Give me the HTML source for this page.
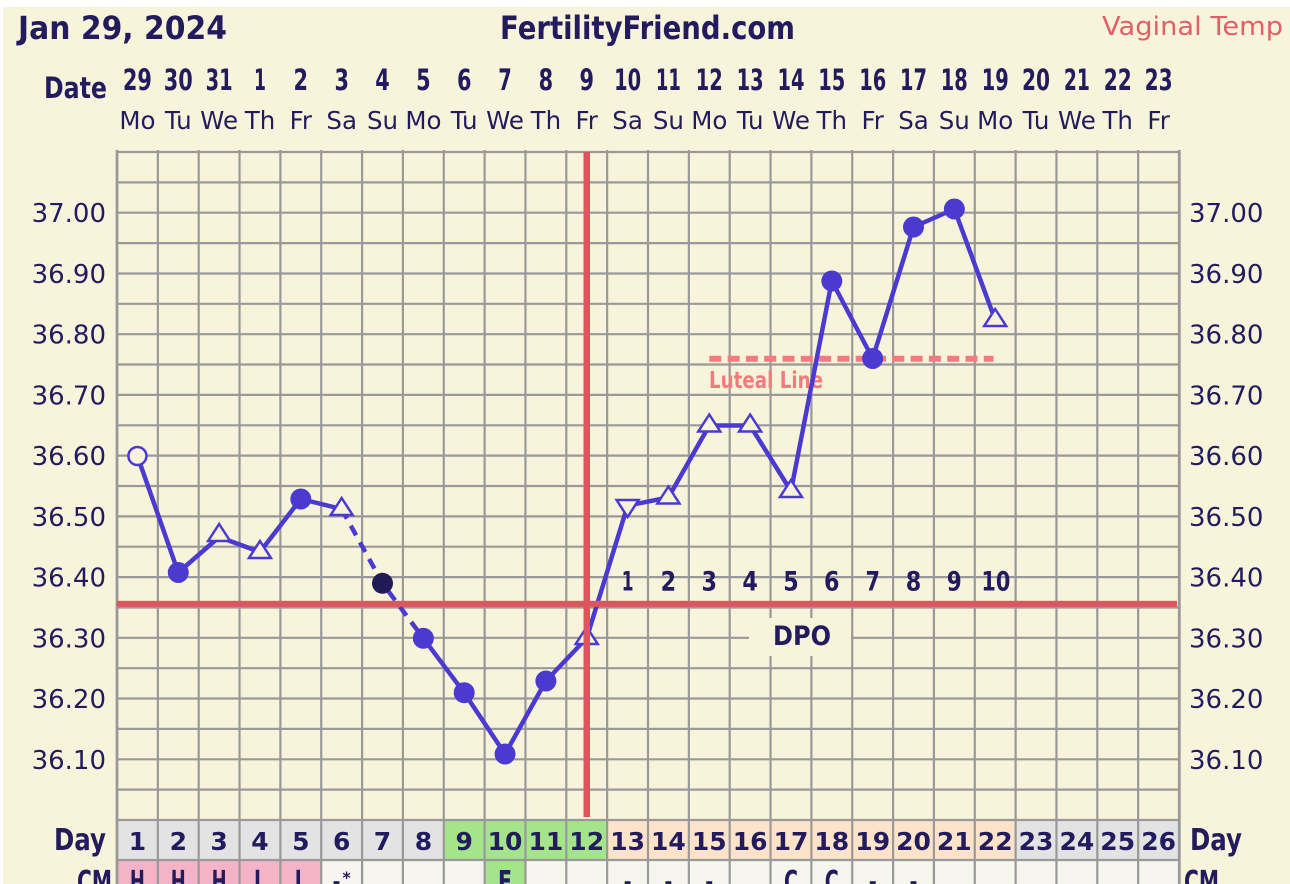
<!DOCTYPE html>
<html><head><meta charset="utf-8">
<style>
html,body{margin:0;padding:0;background:#fff;}
body{width:1290px;height:884px;overflow:hidden;}
svg{display:block;}
text{font-family:"DejaVu Sans","Liberation Sans",sans-serif;fill:#221b5e;}
.b{font-weight:bold;}
</style></head>
<body>
<svg width="1290" height="884" viewBox="0 0 1290 884" xmlns="http://www.w3.org/2000/svg">
<rect x="3" y="7" width="1287" height="877" fill="#f8f4dc"/>

<!-- Header -->
<text class="b" x="18" y="39" font-size="32" textLength="209" lengthAdjust="spacingAndGlyphs">Jan 29, 2024</text>
<text class="b" x="500" y="39" font-size="32" textLength="295" lengthAdjust="spacingAndGlyphs">FertilityFriend.com</text>
<text x="1102" y="35" font-size="26" textLength="181" lengthAdjust="spacingAndGlyphs" style="fill:#e0606a">Vaginal Temp</text>

<text class="b" x="44" y="98" font-size="29" textLength="63" lengthAdjust="spacingAndGlyphs">Date</text>

<!-- Dates -->
<g class="b" font-size="29" text-anchor="middle">
<text x="137.4" y="90" textLength="29" lengthAdjust="spacingAndGlyphs">29</text>
<text x="178.3" y="90" textLength="29" lengthAdjust="spacingAndGlyphs">30</text>
<text x="219.1" y="90" textLength="27" lengthAdjust="spacingAndGlyphs">31</text>
<text x="260.0" y="90" textLength="12" lengthAdjust="spacingAndGlyphs">1</text>
<text x="300.8" y="90" textLength="14.5" lengthAdjust="spacingAndGlyphs">2</text>
<text x="341.7" y="90" textLength="14.5" lengthAdjust="spacingAndGlyphs">3</text>
<text x="382.5" y="90" textLength="14.5" lengthAdjust="spacingAndGlyphs">4</text>
<text x="423.4" y="90" textLength="14.5" lengthAdjust="spacingAndGlyphs">5</text>
<text x="464.2" y="90" textLength="14.5" lengthAdjust="spacingAndGlyphs">6</text>
<text x="505.0" y="90" textLength="13.5" lengthAdjust="spacingAndGlyphs">7</text>
<text x="545.9" y="90" textLength="14.5" lengthAdjust="spacingAndGlyphs">8</text>
<text x="586.7" y="90" textLength="14.5" lengthAdjust="spacingAndGlyphs">9</text>
<text x="627.6" y="90" textLength="27" lengthAdjust="spacingAndGlyphs">10</text>
<text x="668.4" y="90" textLength="25" lengthAdjust="spacingAndGlyphs">11</text>
<text x="709.3" y="90" textLength="27" lengthAdjust="spacingAndGlyphs">12</text>
<text x="750.1" y="90" textLength="27" lengthAdjust="spacingAndGlyphs">13</text>
<text x="791.0" y="90" textLength="27" lengthAdjust="spacingAndGlyphs">14</text>
<text x="831.8" y="90" textLength="27" lengthAdjust="spacingAndGlyphs">15</text>
<text x="872.7" y="90" textLength="27" lengthAdjust="spacingAndGlyphs">16</text>
<text x="913.5" y="90" textLength="27" lengthAdjust="spacingAndGlyphs">17</text>
<text x="954.3" y="90" textLength="27" lengthAdjust="spacingAndGlyphs">18</text>
<text x="995.2" y="90" textLength="27" lengthAdjust="spacingAndGlyphs">19</text>
<text x="1036.0" y="90" textLength="28" lengthAdjust="spacingAndGlyphs">20</text>
<text x="1076.9" y="90" textLength="26" lengthAdjust="spacingAndGlyphs">21</text>
<text x="1117.7" y="90" textLength="28" lengthAdjust="spacingAndGlyphs">22</text>
<text x="1158.6" y="90" textLength="28" lengthAdjust="spacingAndGlyphs">23</text>
</g>

<!-- Weekdays -->
<g font-size="24.5" text-anchor="middle">
<text x="137.4" y="129">Mo</text>
<text x="178.3" y="129">Tu</text>
<text x="219.1" y="129">We</text>
<text x="260.0" y="129">Th</text>
<text x="300.8" y="129">Fr</text>
<text x="341.7" y="129">Sa</text>
<text x="382.5" y="129">Su</text>
<text x="423.4" y="129">Mo</text>
<text x="464.2" y="129">Tu</text>
<text x="505.0" y="129">We</text>
<text x="545.9" y="129">Th</text>
<text x="586.7" y="129">Fr</text>
<text x="627.6" y="129">Sa</text>
<text x="668.4" y="129">Su</text>
<text x="709.3" y="129">Mo</text>
<text x="750.1" y="129">Tu</text>
<text x="791.0" y="129">We</text>
<text x="831.8" y="129">Th</text>
<text x="872.7" y="129">Fr</text>
<text x="913.5" y="129">Sa</text>
<text x="954.3" y="129">Su</text>
<text x="995.2" y="129">Mo</text>
<text x="1036.0" y="129">Tu</text>
<text x="1076.9" y="129">We</text>
<text x="1117.7" y="129">Th</text>
<text x="1158.6" y="129">Fr</text>
</g>

<!-- Day row cells -->
<g>
<rect x="117" y="820" width="327" height="40" fill="#e3e3e3"/>
<rect x="443.8" y="820" width="163.4" height="40" fill="#a4e48a"/>
<rect x="607.2" y="820" width="408.5" height="40" fill="#fde3c9"/>
<rect x="1015.6" y="820" width="163.4" height="40" fill="#e3e3e3"/>
<!-- CM row cells -->
<rect x="117" y="860" width="1062" height="24" fill="#f6f6ef"/>
<rect x="117" y="860" width="204.2" height="24" fill="#f4b3c6"/>
<rect x="484.6" y="860" width="40.8" height="24" fill="#a4e48a"/>
</g>

<!-- Grid -->
<g stroke="#999" stroke-width="2.2" fill="none">
<path d="M118 152H1178M118 182.4H1178M118 212.7H1178M118 243.1H1178M118 273.5H1178M118 303.8H1178M118 334.2H1178M118 364.5H1178M118 394.9H1178M118 425.3H1178M118 455.6H1178M118 486H1178M118 516.4H1178M118 546.7H1178M118 577.1H1178M118 607.5H1178M118 637.8H1178M118 668.2H1178M118 698.5H1178M118 728.9H1178M118 759.3H1178M118 789.6H1178M117 820H1179M117 860H1179"/>
<path d="M157.85 150V884M198.69 150V884M239.54 150V884M280.38 150V884M321.23 150V884M362.08 150V884M402.92 150V884M443.77 150V884M484.62 150V884M525.46 150V884M566.31 150V884M607.15 150V884M648 150V884M688.85 150V884M729.69 150V884M770.54 150V884M811.38 150V884M852.23 150V884M893.08 150V884M933.92 150V884M974.77 150V884M1015.62 150V884M1056.46 150V884M1097.31 150V884M1138.15 150V884"/>
<path d="M117 150V884M1179.3 150V884" stroke-width="2.8"/>
</g>

<!-- DPO box -->
<rect x="749" y="618" width="102" height="38" fill="#f8f4dc"/>
<text class="b" x="773" y="645" font-size="27" textLength="58" lengthAdjust="spacingAndGlyphs">DPO</text>

<!-- Luteal line -->
<line x1="709.3" y1="358.7" x2="993.5" y2="358.7" stroke="#f47a7e" stroke-width="6" stroke-dasharray="12 6.3"/>
<text class="b" x="709" y="388" font-size="23" textLength="114" lengthAdjust="spacingAndGlyphs" style="fill:#f47a7e">Luteal Line</text>

<!-- DPO numbers -->
<g class="b" font-size="27" text-anchor="middle">
<text x="627.6" y="590.5" textLength="12" lengthAdjust="spacingAndGlyphs">1</text>
<text x="668.4" y="590.5" textLength="15.5" lengthAdjust="spacingAndGlyphs">2</text>
<text x="709.3" y="590.5" textLength="15.5" lengthAdjust="spacingAndGlyphs">3</text>
<text x="750.1" y="590.5" textLength="15.5" lengthAdjust="spacingAndGlyphs">4</text>
<text x="791.0" y="590.5" textLength="15.5" lengthAdjust="spacingAndGlyphs">5</text>
<text x="831.8" y="590.5" textLength="15.5" lengthAdjust="spacingAndGlyphs">6</text>
<text x="872.7" y="590.5" textLength="14.5" lengthAdjust="spacingAndGlyphs">7</text>
<text x="913.5" y="590.5" textLength="15.5" lengthAdjust="spacingAndGlyphs">8</text>
<text x="954.3" y="590.5" textLength="15" lengthAdjust="spacingAndGlyphs">9</text>
<text x="995.9" y="590.5" textLength="29" lengthAdjust="spacingAndGlyphs">10</text>
</g>

<!-- Data lines -->
<g fill="none" stroke="#4a3ad0" stroke-width="4.5" stroke-linejoin="round">
<polyline points="137.42,456 178.27,572.5 219.12,537 259.96,552 300.81,499 341.65,509"/>
<polyline points="341.65,509 382.5,583.3 423.35,638.3" stroke-dasharray="11 8"/>
<polyline points="423.35,638.3 464.19,692.7 505.04,754 545.88,681 586.73,638 627.58,505.6 668.42,497.5 709.27,425.5 750.12,425.5 790.96,491 831.81,281 872.65,358.5 913.5,227 954.35,209 995.19,320"/>
</g>

<!-- Markers -->
<g fill="#4a3ad0">
<circle cx="178.27" cy="572.5" r="10.5"/>
<circle cx="300.81" cy="499" r="10.5"/>
<circle cx="423.35" cy="638.3" r="10.5"/>
<circle cx="464.19" cy="692.7" r="10.5"/>
<circle cx="505.04" cy="754" r="10.5"/>
<circle cx="545.88" cy="681" r="10.5"/>
<circle cx="831.81" cy="281" r="10.5"/>
<circle cx="872.65" cy="358.5" r="10.5"/>
<circle cx="913.5" cy="227" r="10.5"/>
<circle cx="954.35" cy="209" r="10.5"/>
</g>
<circle cx="382.5" cy="583.3" r="10.5" fill="#211a55"/>
<circle cx="137.42" cy="456" r="9" fill="#f8f4dc" stroke="#4a3ad0" stroke-width="2.5"/>
<g fill="#f8f4dc" stroke="#4a3ad0" stroke-width="2.5" stroke-linejoin="miter">
<path d="M219.12 524 L230.12 541 L208.12 541 Z"/>
<path d="M259.96 541 L270.96 558 L248.96 558 Z"/>
<path d="M341.65 498 L352.65 515 L330.65 515 Z"/>
<path d="M586.73 627 L597.73 644 L575.73 644 Z"/>
<path d="M627.58 517 L638.58 500 L616.58 500 Z"/>
<path d="M668.42 486.5 L679.42 503.5 L657.42 503.5 Z"/>
<path d="M709.27 414.5 L720.27 431.5 L698.27 431.5 Z"/>
<path d="M750.12 414.5 L761.12 431.5 L739.12 431.5 Z"/>
<path d="M790.96 480 L801.96 497 L779.96 497 Z"/>
<path d="M995.19 309 L1006.19 326 L984.19 326 Z"/>
</g>

<!-- Coverline and ovulation line -->
<rect x="117" y="600.8" width="1060" height="6" fill="#dc565e"/>
<rect x="583.5" y="152" width="6.5" height="665" fill="#dc565e"/>

<!-- Y labels left -->
<g font-size="26" text-anchor="end">
<text x="106" y="222.2">37.00</text>
<text x="106" y="283">36.90</text>
<text x="106" y="343.7">36.80</text>
<text x="106" y="404.4">36.70</text>
<text x="106" y="465.1">36.60</text>
<text x="106" y="525.9">36.50</text>
<text x="106" y="586.6">36.40</text>
<text x="106" y="647.3">36.30</text>
<text x="106" y="708">36.20</text>
<text x="106" y="768.8">36.10</text>
</g>
<!-- Y labels right -->
<g font-size="26">
<text x="1189" y="222.2">37.00</text>
<text x="1189" y="283">36.90</text>
<text x="1189" y="343.7">36.80</text>
<text x="1189" y="404.4">36.70</text>
<text x="1189" y="465.1">36.60</text>
<text x="1189" y="525.9">36.50</text>
<text x="1189" y="586.6">36.40</text>
<text x="1189" y="647.3">36.30</text>
<text x="1189" y="708">36.20</text>
<text x="1189" y="768.8">36.10</text>
</g>

<!-- Day row -->
<text class="b" x="54" y="850" font-size="30" textLength="52" lengthAdjust="spacingAndGlyphs">Day</text>
<text class="b" x="1190" y="850" font-size="30" textLength="52" lengthAdjust="spacingAndGlyphs">Day</text>
<g class="b" font-size="25" text-anchor="middle">
<text x="137.4" y="850">1</text>
<text x="178.3" y="850">2</text>
<text x="219.1" y="850">3</text>
<text x="260.0" y="850">4</text>
<text x="300.8" y="850">5</text>
<text x="341.7" y="850">6</text>
<text x="382.5" y="850">7</text>
<text x="423.4" y="850">8</text>
<text x="464.2" y="850">9</text>
<text x="505.0" y="850">10</text>
<text x="545.9" y="850">11</text>
<text x="586.7" y="850">12</text>
<text x="627.6" y="850">13</text>
<text x="668.4" y="850">14</text>
<text x="709.3" y="850">15</text>
<text x="750.1" y="850">16</text>
<text x="791.0" y="850">17</text>
<text x="831.8" y="850">18</text>
<text x="872.7" y="850">19</text>
<text x="913.5" y="850">20</text>
<text x="954.3" y="850">21</text>
<text x="995.2" y="850">22</text>
<text x="1036.0" y="850">23</text>
<text x="1076.9" y="850">24</text>
<text x="1117.7" y="850">25</text>
<text x="1158.6" y="850">26</text>
</g>

<!-- CM row -->
<text class="b" x="77" y="892" font-size="30" textLength="35" lengthAdjust="spacingAndGlyphs">CM</text>
<text class="b" x="1184" y="892" font-size="30" textLength="35" lengthAdjust="spacingAndGlyphs">CM</text>
<g class="b" font-size="30" text-anchor="middle">
<text x="137.4" y="892" textLength="15" lengthAdjust="spacingAndGlyphs">H</text>
<text x="178.3" y="892" textLength="15" lengthAdjust="spacingAndGlyphs">H</text>
<text x="219.1" y="892" textLength="15" lengthAdjust="spacingAndGlyphs">H</text>
<text x="260.0" y="892" textLength="12" lengthAdjust="spacingAndGlyphs">L</text>
<text x="300.8" y="892" textLength="12" lengthAdjust="spacingAndGlyphs">L</text>
<text x="336.5" y="892" textLength="8" lengthAdjust="spacingAndGlyphs">-</text>
<text x="505.0" y="892" textLength="14" lengthAdjust="spacingAndGlyphs">E</text>
<text x="627.6" y="892" textLength="8" lengthAdjust="spacingAndGlyphs">-</text>
<text x="668.4" y="892" textLength="8" lengthAdjust="spacingAndGlyphs">-</text>
<text x="709.3" y="892" textLength="8" lengthAdjust="spacingAndGlyphs">-</text>
<text x="791.0" y="892" textLength="14" lengthAdjust="spacingAndGlyphs">C</text>
<text x="831.8" y="892" textLength="14" lengthAdjust="spacingAndGlyphs">C</text>
<text x="872.7" y="892" textLength="8" lengthAdjust="spacingAndGlyphs">-</text>
<text x="913.5" y="892" textLength="8" lengthAdjust="spacingAndGlyphs">-</text>
</g>
<text class="b" x="346.5" y="883" font-size="16" text-anchor="middle">*</text>
</svg>
</body></html>
